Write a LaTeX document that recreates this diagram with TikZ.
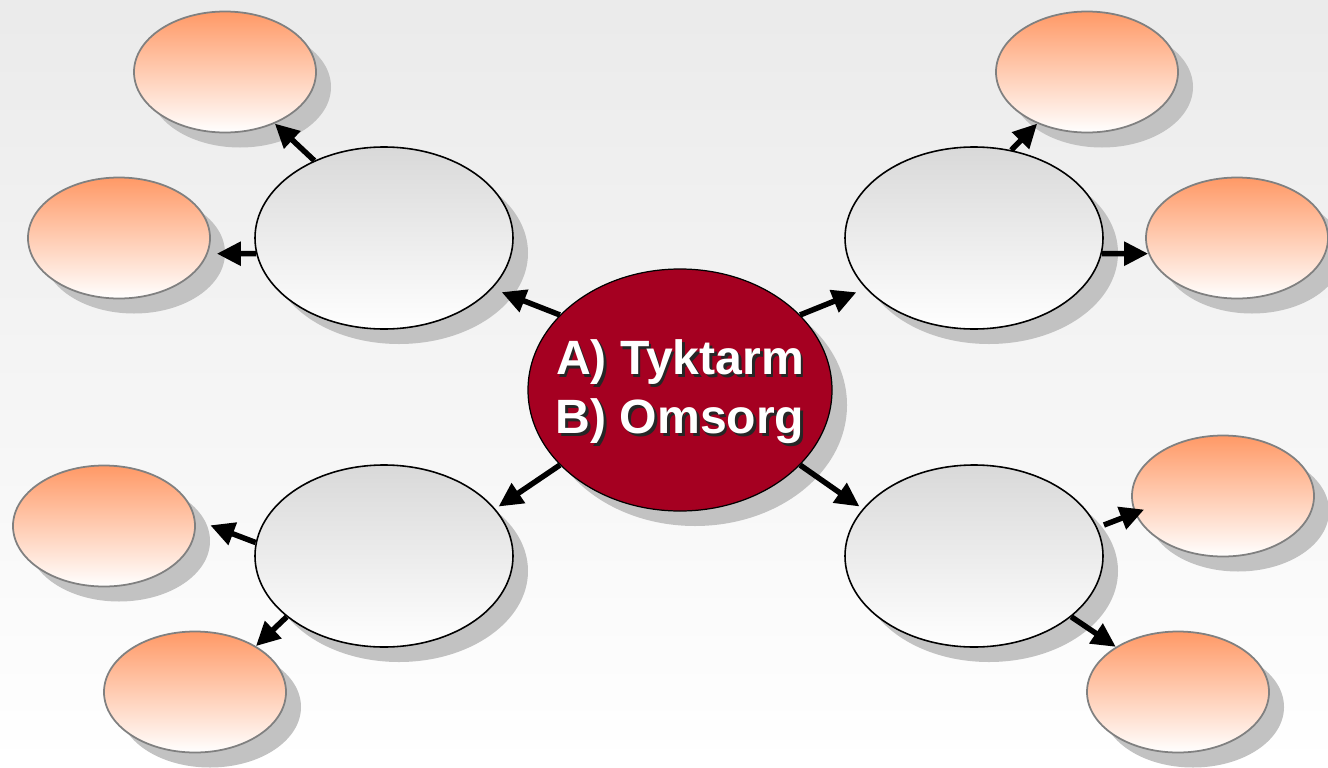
\documentclass[tikz,border=0pt]{standalone}
\usepackage{fontspec}
\setmainfont{Liberation Sans}
\usepackage{tikz}
\usetikzlibrary{arrows.meta,shapes.geometric,shadows}
\definecolor{HubRed}{HTML}{A50021}
\definecolor{LeafOrange}{HTML}{FF9966}
\definecolor{LeafBorder}{HTML}{808080}
\definecolor{ShadowGray}{HTML}{C2C2C2}
\newcommand{\stext}[1]{\leavevmode\rlap{\kern0.8pt\raisebox{-0.8pt}{\color{black!85}#1}}#1}

\begin{document}
\begin{tikzpicture}[
  shade/.style={drop shadow={shadow xshift=0.15cm,shadow yshift=-0.15cm,fill=ShadowGray,opacity=1}},
  hub/.style={ellipse,draw=black,line width=0.35pt,fill=HubRed,minimum width=3.04cm,minimum height=2.42cm,inner sep=0pt,shade},
  hubtext/.style={text=white,align=center,yshift=-0.03cm,font=\fontsize{13.7}{16.8}\selectfont\bfseries},
  topic/.style={ellipse,draw=black,line width=0.45pt,top color=black!15,bottom color=white,minimum width=2.58cm,minimum height=1.82cm,inner sep=0pt,shade},
  leaf/.style={ellipse,draw=LeafBorder,line width=0.5pt,top color=LeafOrange,bottom color=white,minimum width=1.82cm,minimum height=1.21cm,inner sep=0pt,shade},
  arr/.style={line width=0.055cm,-{Triangle[length=0.24cm,width=0.23cm]}}
]
\clip (0,0) rectangle (13.28,7.67);
\fill[top color=black!8,bottom color=white] (0,0) rectangle (13.28,7.67);

% centre
\node[hub,label={[hubtext]center:{\stext{A) Tyktarm}\\\stext{B) Omsorg}}}] (hub) at (6.80,3.77) {};

% four topics
\node[topic] (tl) at (3.84,5.29) {};
\node[topic] (tr) at (9.74,5.29) {};
\node[topic] (bl) at (3.84,2.11) {};
\node[topic] (br) at (9.74,2.11) {};

% leaves
\node[leaf] (tlA) at (2.25,6.95) {};
\node[leaf] (tlB) at (1.19,5.29) {};
\node[leaf] (trA) at (10.87,6.95) {};
\node[leaf] (trB) at (12.37,5.29) {};
\node[leaf] (blA) at (1.04,2.41) {};
\node[leaf] (blB) at (1.95,0.75) {};
\node[leaf] (brA) at (12.23,2.71) {};
\node[leaf] (brB) at (11.78,0.75) {};

% arrows
\draw[arr,shorten >=0.1cm] (hub.148) -- (tl.-25);
\draw[arr,shorten >=0.1cm] (hub.32) -- (tr.205);
\draw[arr,shorten >=0.04cm] (hub.212) -- (bl.23);
\draw[arr,shorten >=0.04cm] (hub.-32) -- (br.157);
\draw[arr] (tl.132) -- (tlA.-46);
\draw[arr,shorten >=0.09cm] (tl.187) -- (tlB.-10);
\draw[arr] (tr.67) -- (trA.226);
\draw[arr] (tr.-7) -- (trB.190);
\draw[arr,shorten >=0.16cm] (bl.174) -- (blA.4);
\draw[arr] (bl.212) -- (blB.37);
\draw[arr,shorten <=0.07cm,shorten >=-0.1cm] (br.13) -- (brA.191);
\draw[arr] (br.-32) -- (brB.144);
\end{tikzpicture}
\end{document}
